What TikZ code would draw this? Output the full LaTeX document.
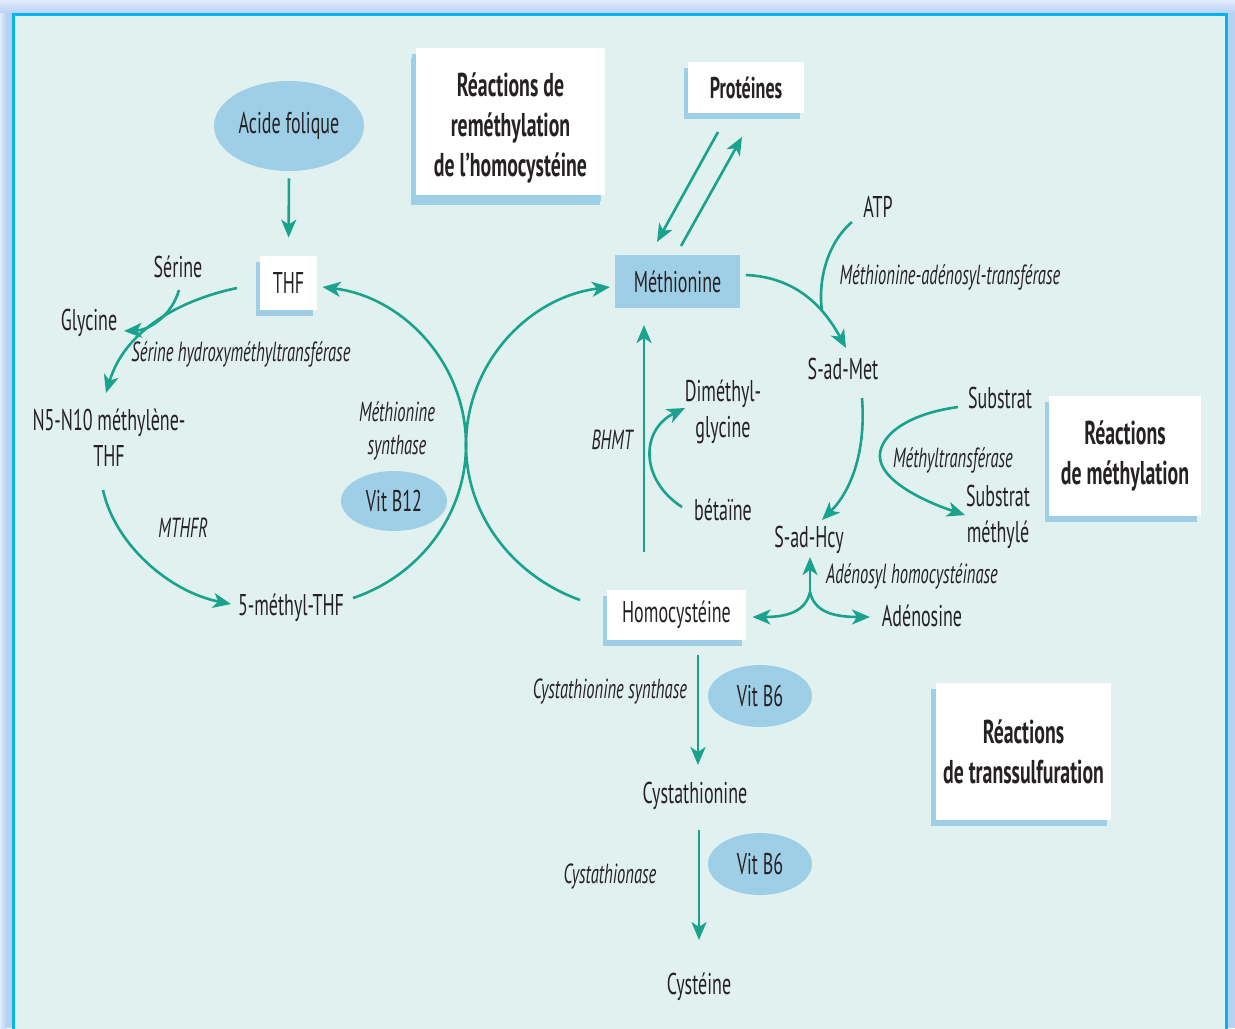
\documentclass[tikz,border=0pt]{standalone}
\usepackage{fontspec}
\setmainfont{PT Sans}[FakeStretch=0.6]
\usetikzlibrary{arrows.meta,calc,shadows,shapes.geometric}
\definecolor{bgc}{HTML}{E1F1F0}
\definecolor{glowc}{HTML}{B8D2F4}
\definecolor{framec}{HTML}{00B4EF}
\definecolor{arrowc}{HTML}{1AA38C}
\definecolor{lblue}{HTML}{9FCFE6}
\definecolor{ink}{HTML}{262223}
\begin{document}
\begin{tikzpicture}[x=0.5pt,y=-0.5pt,
  txt/.style={font=\fontsize{15}{18}\selectfont, text=ink, inner sep=1pt, align=center},
  enz/.style={font=\fontsize{13.8}{16.8}\selectfont\itshape, text=ink, inner sep=1pt, align=center},
  ttl/.style={font=\fontsize{16.5}{20}\selectfont\bfseries, text=ink, align=center},
  wbox/.style={fill=white, inner sep=0pt, drop shadow={shadow xshift=-2pt, shadow yshift=-3pt, opacity=1, fill=lblue}},
  ell/.style={ellipse, fill=lblue, inner sep=0pt},
  ln/.style={draw=arrowc, line width=1.3pt},
  arr/.style={ln, -{Stealth[length=9pt, width=7.5pt, inset=2.5pt]}}
]
\useasboundingbox (0,0) rectangle (1235,1028);
\fill[glowc] (0,0) rectangle (1235,1028);
\shade[top color=glowc!40!white, bottom color=glowc] (0,0) rectangle (1235,13);
\shade[left color=glowc!40!white, right color=glowc] (0,13) rectangle (6,1028);
\fill[bgc, draw=framec, line width=1.5pt] (13.5,14.5) rectangle (1226.5,1040);

% boxes
\node[wbox, ttl, minimum width=94.5pt, minimum height=73.5pt, drop shadow={shadow xshift=-2.5pt, shadow yshift=-5pt, opacity=1, fill=lblue}] (remeth) at (510.5,121.5) {\rule{0pt}{18pt}Réactions de\\reméthylation\\de l'homocystéine};
\node[wbox, ttl, font=\fontsize{15}{18}\selectfont\bfseries, minimum width=58pt, minimum height=25.5pt] (prot) at (746,87.5) {Protéines};
\node[fill=lblue, inner sep=0pt, txt, minimum width=62.5pt, minimum height=26.5pt] (met) at (677.5,281.5) {Méthionine};
\node[wbox, ttl, minimum width=76pt, minimum height=60pt] (methyl) at (1125,456) {Réactions\\de méthylation};
\node[wbox, txt, minimum width=69.5pt, minimum height=25pt] (homo) at (676.5,615) {Homocystéine};
\node[wbox, ttl, minimum width=87.5pt, minimum height=68.5pt, drop shadow={shadow xshift=-2.5pt, shadow yshift=-3pt, opacity=1, fill=lblue}] (transs) at (1023.5,751.5) {Réactions\\de transsulfuration};
\node[wbox, txt, minimum width=28.5pt, minimum height=27pt] (thf) at (288.5,283) {THF};

% ellipses
\node[ell, txt, minimum width=75pt, minimum height=45pt] (af) at (289,126) {Acide folique};
\node[ell, txt, minimum width=53pt, minimum height=30pt] (b12) at (394,501) {Vit B12};
\node[ell, txt, minimum width=52pt, minimum height=31pt] (b6a) at (760,696) {Vit B6};
\node[ell, txt, minimum width=52pt, minimum height=31pt] (b6b) at (760,864) {Vit B6};

% texts
\node[txt] (ser) at (178,267) {Sérine};
\node[txt] (gly) at (89,323) {Glycine};
\node[enz] (shmt) at (241,354) {Sérine hydroxyméthyltransférase};
\node[txt] (n5) at (109,438) {N5-N10 méthylène-\\THF};
\node[enz] (mthfr) at (183,528) {MTHFR};
\node[txt] (m5) at (291,608) {5-méthyl-THF};
\node[enz] (ms) at (397,431) {Méthionine\\synthase};
\node[txt] (atp) at (878,207) {ATP};
\node[enz] (mat) at (950,277) {Méthionine-adénosyl-transférase};
\node[txt] (sadmet) at (843,369) {S-ad-Met};
\node[enz] (bhmt) at (612,440) {BHMT};
\node[txt] (dmg) at (723,412) {Diméthyl-\\glycine};
\node[txt] (bet) at (723,510) {bétaïne};
\node[txt] (sadhcy) at (809,540) {S-ad-Hcy};
\node[txt] (sub) at (1000,398) {Substrat};
\node[enz] (mtr) at (953,460) {Méthyltransférase};
\node[txt] (subm) at (998,517) {Substrat\\méthylé};
\node[enz] (ahc) at (912,576) {Adénosyl homocystéinase};
\node[txt] (ado) at (922,616) {Adénosine};
\node[enz] (cbs) at (610,691) {Cystathionine synthase};
\node[txt] (cysta) at (695,796) {Cystathionine};
\node[enz] (cgl) at (610,876) {Cystathionase};
\node[txt] (cys) at (699,987) {Cystéine};

% helper coordinates
\coordinate (kiss) at (466,445);
\coordinate (atpjoin) at (822,311);
\coordinate (mtbend) at (880,458);
\coordinate (jn) at (810,592);

% connectors
\draw[arr, shorten <=3.5pt, shorten >=9pt] (af.south) -- (thf.north);
\draw[arr] ($(thf)+(-51.5,5)$) .. controls (180,300) and (125,330) .. ($(n5)+(-3,-45)$);
\draw[arr] ($(ser)+(1,23)$) .. controls (172,315) and (150,330) .. ($(gly)+(35,8)$);
\draw[arr] ($(n5)+(-6,52)$) .. controls (115,545) and (170,592) .. ($(m5)+(-60,-4)$);
\draw[arr] ($(m5)+(62,-10)$) .. controls (419,576) and (466,515) .. (kiss) .. controls (466,363) and (403,297) .. ($(thf)+(34,4)$);
\draw[arr] ($(homo)+(-96.5,-15)$) .. controls (513,576) and (466,515) .. (kiss) .. controls (466,363) and (529,297) .. ($(met)+(-67.5,5.5)$);
\draw[arr] ($(met)+(68.5,-6.5)$) .. controls (790,277) and (820,300) .. ($(sadmet)+(3,-21)$);
\draw[ln] ($(atp)+(-26,15)$) .. controls (825,245) and (818,285) .. (atpjoin);
\draw[arr] ($(sadmet)+(19,29)$) .. controls (866,450) and (852,490) .. ($(sadhcy)+(13,-20)$);
\draw[arr] ($(sub)+(-42,9)$) .. controls (900,415) and (878,440) .. (mtbend) .. controls (882,480) and (920,500) .. ($(subm)+(-33,-2)$);
\draw[arr] (jn) -- ($(sadhcy)+(1,17)$);
\draw[arr] (jn) .. controls (806,610) and (790,617) .. ($(homo)+(76,2)$);
\draw[arr] (jn) .. controls (814,610) and (830,617) .. ($(ado)+(-52,1)$);
\draw[arr] ($(homo)+(-32.5,-63)$) -- ($(met)+(-33.5,43.5)$);
\draw[arr] ($(bet)+(-41,-3)$) .. controls (640,480) and (640,430) .. ($(dmg)+(-38,-4)$);
\draw[arr] ($(prot)+(-28,44.5)$) -- ($(met)+(-20.5,-39.5)$);
\draw[arr] ($(met)+(3.5,-35.5)$) -- ($(prot)+(-4,49.5)$);
\draw[arr] ($(homo)+(21.5,40)$) -- ($(cysta)+(3,-31)$);
\draw[arr] ($(cysta)+(4,34)$) -- ($(cys)+(0,-47)$);
\end{tikzpicture}
\end{document}
